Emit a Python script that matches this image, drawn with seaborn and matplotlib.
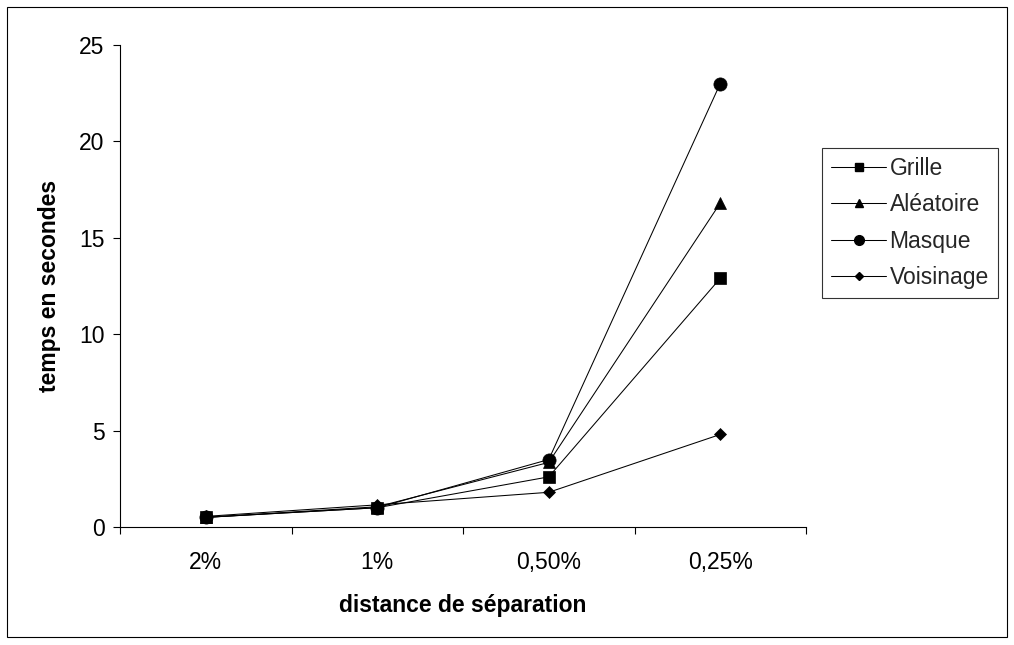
import matplotlib
matplotlib.use("Agg")
import matplotlib.pyplot as plt
import seaborn as sns
import pandas as pd
from matplotlib.patches import Rectangle
from matplotlib.lines import Line2D
from matplotlib.ticker import FixedLocator

categories = ["2%", "1%", "0,50%", "0,25%"]
grille = [0.5, 1.0, 2.6, 12.9]
aleatoire = [0.5, 1.05, 3.35, 16.8]
masque = [0.5, 1.0, 3.5, 23.0]
voisinage = [0.55, 1.15, 1.8, 4.8]
series_names = ["Grille", "Aléatoire", "Masque", "Voisinage"]

sns.set_theme(style="white")
plt.rcParams["font.family"] = ["Liberation Sans", "DejaVu Sans"]

FS = 16.5

rows = []
for name, vals in zip(series_names, [grille, aleatoire, masque, voisinage]):
    for c, v in zip(categories, vals):
        rows.append({"distance": c, "temps": v, "serie": name})
df = pd.DataFrame(rows)

fig = plt.figure(figsize=(10.14, 6.45), dpi=100)
ax = fig.add_axes([120 / 1014, 1 - 527 / 645, (806 - 120) / 1014, (527 - 45) / 645])

markers = {"Grille": "s", "Aléatoire": "^", "Masque": "o", "Voisinage": "D"}
sizes = {"Grille": 8.5, "Aléatoire": 8.5, "Masque": 9.5, "Voisinage": 6.2}
leg_sizes = {"Grille": 5.5, "Aléatoire": 6, "Masque": 7, "Voisinage": 4.3}
for name in series_names:
    sub = df[df["serie"] == name]
    sns.lineplot(data=sub, x="distance", y="temps", ax=ax, color="black",
                 marker=markers[name], markersize=sizes[name], markeredgecolor="black",
                 markeredgewidth=0.5, linewidth=0.75, sort=False, legend=False)

ax.set_xlim(-0.5, 3.5)
ax.set_ylim(0, 25)
ax.set_yticks([0, 5, 10, 15, 20, 25])
ax.set_xticks(range(len(categories)))
ax.set_xticklabels(categories)
ax.xaxis.set_minor_locator(FixedLocator([-0.5, 0.5, 1.5, 2.5, 3.5]))
ax.tick_params(axis="x", which="major", length=0, labelsize=FS, pad=17, colors="black")
ax.tick_params(axis="x", which="minor", length=5, width=0.8, color="black", direction="out", bottom=True)
ax.tick_params(axis="y", which="major", length=5, width=0.8, color="black", direction="out", left=True,
               labelsize=FS, pad=6, labelcolor="black")
for s in ["top", "right"]:
    ax.spines[s].set_visible(False)
for s in ["left", "bottom"]:
    ax.spines[s].set_color("black")
    ax.spines[s].set_linewidth(0.8)

ax.set_xlabel("distance de séparation", fontsize=FS, fontweight="bold", labelpad=15, color="black")
ax.set_ylabel("temps en secondes", fontsize=FS, fontweight="bold", labelpad=13, color="black")

handles = [Line2D([], [], color="black", linewidth=0.75, marker=markers[n], markersize=leg_sizes[n],
                  markeredgecolor="black") for n in series_names]
leg = fig.legend(handles, series_names, loc="upper left", bbox_to_anchor=(822 / 1014, 1 - 148 / 645),
                 frameon=True, fancybox=False, fontsize=FS, handlelength=2.4, handletextpad=0.15,
                 labelspacing=0.58, borderpad=0.4, borderaxespad=0)
leg.get_frame().set_edgecolor("black")
leg.get_frame().set_linewidth(0.8)

fig.patches.append(Rectangle((7 / 1014, 8 / 645), 1000 / 1014, 630 / 645, transform=fig.transFigure,
                             fill=False, edgecolor="black", linewidth=0.8))

fig.savefig("out.png", dpi=100)
